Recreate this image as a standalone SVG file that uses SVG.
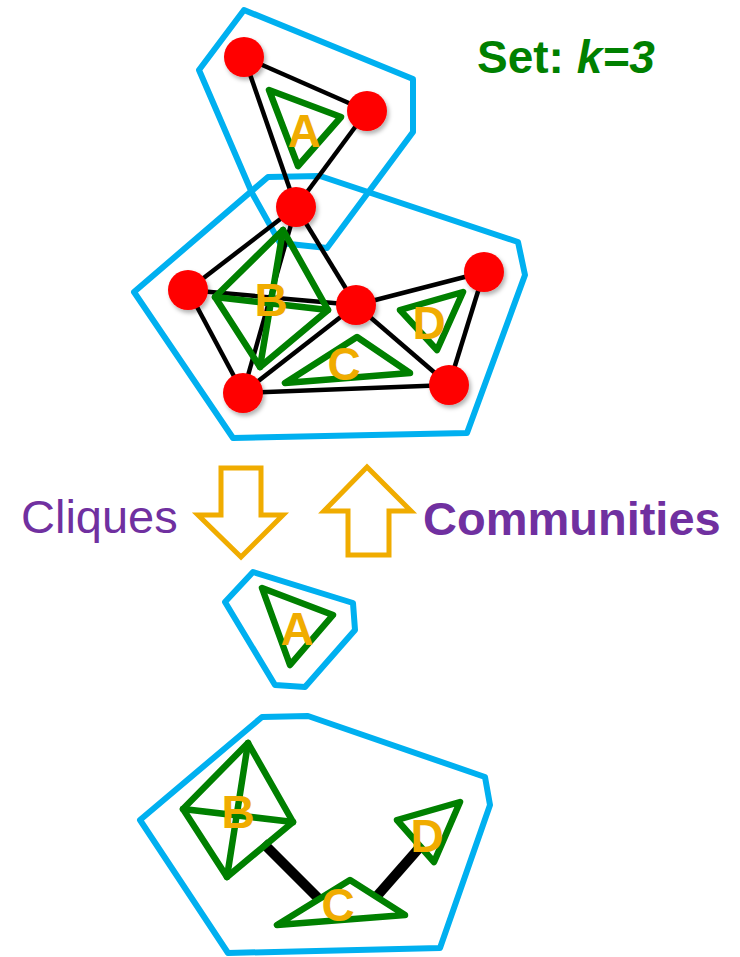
<svg xmlns="http://www.w3.org/2000/svg" width="740" height="957" viewBox="0 0 740 957">
<defs>
<style>
.hull{fill:none;stroke:#00B0F0;stroke-width:6;stroke-linejoin:round}
.edge{stroke:#000;stroke-width:4.5;fill:none}
.thick{stroke:#000;stroke-width:10;fill:none}
.cl{fill:none;stroke:#008000;stroke-width:6.5;stroke-linejoin:round;stroke-linecap:round}
.node{fill:#FF0000}
.lab{font-family:"Liberation Sans",Arial,sans-serif;font-weight:bold;font-size:46px;fill:#F0AC00;text-anchor:middle}
.arrow{fill:#fff;stroke:#F0AC00;stroke-width:5;stroke-linejoin:miter}
.purple{font-family:"Liberation Sans",Arial,sans-serif;font-size:47px;fill:#7030A0}
</style>
<filter id="sh" x="-30%" y="-30%" width="170%" height="170%">
<feDropShadow dx="2" dy="3" stdDeviation="2" flood-color="#000" flood-opacity="0.3"/>
</filter>
</defs>
<rect width="740" height="957" fill="#fff"/>

<g id="community-A-top">
<polygon class="hull" points="244,10 413,79 413,132 327,248 280,243 252,193 199,70"/>
</g>
<g id="community-BCD-top">
<polygon class="hull" points="268,177 320,176 518,242 525,275 467,433 233,438 134,292"/>
</g>

<g id="connectors">
<line class="edge" x1="244" y1="57" x2="367" y2="111"/>
<line class="edge" x1="244" y1="57" x2="296" y2="207"/>
<line class="edge" x1="367" y1="111" x2="296" y2="207"/>
<line class="edge" x1="296" y1="207" x2="188" y2="290"/>
<line class="edge" x1="296" y1="207" x2="356" y2="305"/>
<line class="edge" x1="296" y1="207" x2="243" y2="393"/>
<line class="edge" x1="188" y1="290" x2="356" y2="305"/>
<line class="edge" x1="188" y1="290" x2="243" y2="393"/>
<line class="edge" x1="356" y1="305" x2="243" y2="393"/>
<line class="edge" x1="356" y1="305" x2="484" y2="272"/>
<line class="edge" x1="356" y1="305" x2="449" y2="385"/>
<line class="edge" x1="484" y1="272" x2="449" y2="385"/>
<line class="edge" x1="243" y1="393" x2="449" y2="385"/>
<line class="thick" x1="263" y1="843" x2="318" y2="898"/>
<line class="thick" x1="377" y1="896" x2="420" y2="847"/>
</g>

<g id="clique-A-top">
<polygon class="cl" points="269,90 341,117 298,166"/>
</g>
<g id="clique-B-top">
<polygon class="cl" points="283,230 215,297 260,367 328,310"/>
<line class="cl" x1="283" y1="230" x2="260" y2="367"/>
<line class="cl" x1="215" y1="297" x2="328" y2="310"/>
</g>
<g id="clique-C-top">
<polygon class="cl" points="357,337 285,383 410,373"/>
</g>
<g id="clique-D-top">
<polygon class="cl" points="463,292 400,310 437,350"/>
</g>

<g id="nodes" filter="url(#sh)">
<circle class="node" cx="244" cy="57" r="20"/>
<circle class="node" cx="367" cy="111" r="20"/>
<circle class="node" cx="296" cy="207" r="20"/>
<circle class="node" cx="188" cy="290" r="20"/>
<circle class="node" cx="356" cy="305" r="20"/>
<circle class="node" cx="484" cy="272" r="20"/>
<circle class="node" cx="243" cy="393" r="20"/>
<circle class="node" cx="449" cy="385" r="20"/>
</g>

<g id="labels-top">
<text class="lab" x="304" y="147">A</text>
<text class="lab" x="271" y="316">B</text>
<text class="lab" x="344" y="380">C</text>
<text class="lab" x="429" y="339">D</text>
</g>

<g id="title">
<text x="477" y="73" font-family="Liberation Sans, Arial, sans-serif" font-weight="bold" font-size="46" fill="#008000">Set: <tspan font-style="italic">k=3</tspan></text>
</g>

<g id="arrow-down">
<polygon class="arrow" points="221,468 261,468 261,515 283,515 241,557 198,515 221,515"/>
</g>
<g id="arrow-up">
<polygon class="arrow" points="367,467 411,511 389,511 389,555 348,555 348,511 324,511"/>
</g>
<g id="text-cliques">
<text class="purple" x="21" y="533">Cliques</text>
</g>
<g id="text-communities">
<text class="purple" x="423" y="535" font-weight="bold" font-size="48">Communities</text>
</g>

<g id="community-A-bottom">
<polygon class="hull" points="253,572 353,603 355,630 305,687 275,685 225,602"/>
<polygon class="cl" points="262,588 333,615 290,665"/>
<text class="lab" x="297" y="645">A</text>
</g>

<g id="community-BCD-bottom">
<polygon class="hull" points="262,717 308,716 485,777 490,805 440,948 228,953 140,820"/>
</g>
<g id="clique-B-bottom">
<polygon class="cl" points="248,743 183,809 227,877 293,822"/>
<line class="cl" x1="248" y1="743" x2="227" y2="877"/>
<line class="cl" x1="183" y1="809" x2="293" y2="822"/>
<text class="lab" x="238" y="828">B</text>
</g>
<g id="clique-C-bottom">
<polygon class="cl" points="350,880 277,925 405,915"/>
<text class="lab" x="338" y="921">C</text>
</g>
<g id="clique-D-bottom">
<polygon class="cl" points="460,802 397,820 434,862"/>
<text class="lab" x="427" y="852">D</text>
</g>
</svg>
